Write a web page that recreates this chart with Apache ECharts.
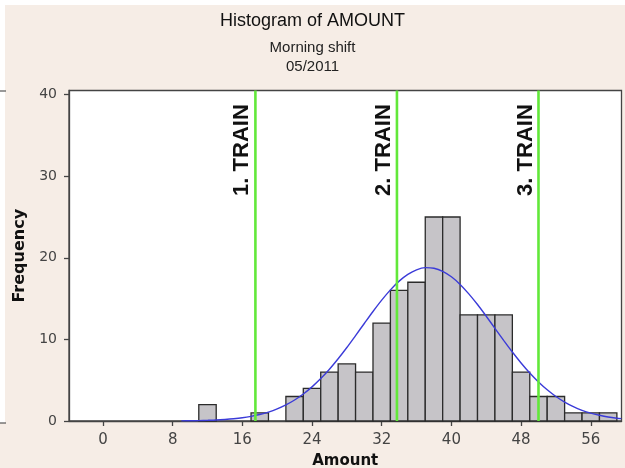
<!DOCTYPE html>
<html>
<head>
<meta charset="utf-8">
<script src="https://cdn.jsdelivr.net/npm/echarts@6.0.0/dist/echarts.min.js"></script>
<style>
  body { margin: 0; }
  #hist { width: 625px; height: 468px; }
</style>
</head>
<body>
<div id="hist"></div>
<script>
// histogram bins (centre of each 2-wide bin) and counts
const binCenters = [12, 14, 16, 18, 20, 22, 24, 26, 28, 30, 32, 34, 36, 38, 40, 42, 44, 46, 48, 50, 52, 54, 56, 58]
const counts = [2, 0, 0, 1, 0, 3, 4, 6, 7, 6, 12, 16, 17, 25, 25, 13, 13, 13, 6, 3, 3, 1, 1, 1]
const binWidth = 2

// fitted normal curve
const curveX = [9, 10, 11, 12, 13, 14, 15, 16, 17, 18, 19, 20, 21, 22, 23, 24, 25, 26, 27, 28, 29, 30, 31, 32, 33, 34,
  35, 36, 37, 38, 39, 40, 41, 42, 43, 44, 45, 46, 47, 48, 49, 50, 51, 52, 53, 54, 55, 56, 57, 58, 59, 59.5]
const curveY = [0.02, 0.03, 0.05, 0.08, 0.12, 0.19, 0.28, 0.40, 0.57, 0.79, 1.09, 1.48, 1.97, 2.57, 3.31, 4.18, 5.20,
  6.35, 7.63, 9.01, 10.47, 11.95, 13.42, 14.81, 16.07, 17.14, 17.97, 18.53, 18.79, 18.72, 18.34, 17.67, 16.74, 15.58,
  14.27, 12.84, 11.36, 9.88, 8.45, 7.11, 5.88, 4.78, 3.82, 3.00, 2.32, 1.76, 1.31, 0.96, 0.70, 0.49, 0.34, 0.29]

// green reference lines
const trainX = [17.5, 33.75, 50]
const trainLabels = ['1. TRAIN', '2. TRAIN', '3. TRAIN']

const xTicks = [0, 8, 16, 24, 32, 40, 48, 56]
const yTicks = [0, 10, 20, 30, 40]

let mychart = echarts.init(document.getElementById('hist'))
let option = {
  backgroundColor: '#F6EDE6',
  animation: false,
  title: {
    text: 'Histogram of AMOUNT',
    subtext: 'Morning shift\n05/2011',
    left: 'center',
    top: 12,
    padding: 0,
    itemGap: 8,
    textStyle: { fontFamily: 'Liberation Sans', fontSize: 18, fontWeight: 'normal', color: '#111', lineHeight: 18 },
    subtextStyle: { fontFamily: 'Liberation Sans', fontSize: 15, color: '#222', lineHeight: 19 }
  },
  graphic: [
    { type: 'rect', shape: { x: 0, y: 0, width: 625, height: 5 }, style: { fill: '#fff' } },
    { type: 'rect', shape: { x: 0, y: 0, width: 5, height: 423 }, style: { fill: '#fff' } },
    { type: 'line', shape: { x1: 0, y1: 91, x2: 6, y2: 91 }, style: { stroke: '#555', lineWidth: 1.2 } },
    { type: 'line', shape: { x1: 0, y1: 423, x2: 6, y2: 423 }, style: { stroke: '#555', lineWidth: 1.2 } }
  ],
  grid: {
    left: 69, right: 3.5, top: 90.5, bottom: 47,
    outerBoundsMode: 'none',
    containLabel: false,
    show: true, backgroundColor: '#fff', borderColor: '#444', borderWidth: 1.3
  },
  xAxis: {
    type: 'value',
    min: -3.9,
    max: 59.53,
    name: 'Amount',
    nameLocation: 'middle',
    nameGap: 33,
    nameTextStyle: { fontFamily: 'DejaVu Sans', fontWeight: 'bold', fontSize: 15, color: '#111' },
    splitLine: { show: false },
    axisLine: { onZero: false, lineStyle: { color: '#444', width: 1.3 } },
    axisTick: { customValues: xTicks, length: 5, lineStyle: { color: '#444', width: 1.3 } },
    axisLabel: { customValues: xTicks, margin: 12, fontFamily: 'DejaVu Sans', fontSize: 15, color: '#444' }
  },
  yAxis: {
    type: 'value',
    min: 0,
    max: 40.5,
    name: 'Frequency',
    nameLocation: 'middle',
    nameGap: 40,
    nameTextStyle: { fontFamily: 'DejaVu Sans', fontWeight: 'bold', fontSize: 16, color: '#111' },
    splitLine: { show: false },
    axisLine: { show: true, onZero: false, lineStyle: { color: '#444', width: 1.3 } },
    axisTick: { show: true, customValues: yTicks, length: 5, lineStyle: { color: '#444', width: 1.3 } },
    axisLabel: { customValues: yTicks, margin: 12, fontFamily: 'DejaVu Sans', fontSize: 14, color: '#444' }
  },
  series: [
    {
      type: 'custom',
      z: 2,
      data: binCenters.map((c, i) => [c, counts[i]]),
      encode: { x: 0, y: 1 },
      renderItem: function (params, api) {
        let c = api.value(0)
        let h = api.value(1)
        if (!h) return null
        let p0 = api.coord([c - binWidth / 2, h])
        let p1 = api.coord([c + binWidth / 2, 0])
        return {
          type: 'rect',
          shape: { x: p0[0], y: p0[1], width: p1[0] - p0[0], height: p1[1] - p0[1] },
          style: { fill: '#C6C4C8', stroke: '#2b2b2b', lineWidth: 1.3 }
        }
      }
    },
    {
      type: 'line',
      z: 3,
      data: curveX.map((x, i) => [x, curveY[i]]),
      showSymbol: false,
      smooth: 0.3,
      lineStyle: { color: '#3B3BD8', width: 1.4 }
    },
    {
      type: 'custom',
      z: 4,
      data: trainX.map(x => [x]),
      encode: { x: 0 },
      renderItem: function (params, api) {
        let x = api.value(0)
        let bottom = api.coord([x, 0])
        let top = api.coord([x, 40.5])
        let mid = api.coord([x, 33.2])
        return {
          type: 'group',
          children: [
            {
              type: 'line',
              shape: { x1: bottom[0], y1: bottom[1], x2: top[0], y2: top[1] },
              style: { stroke: '#62E83A', lineWidth: 2.6 }
            },
            {
              type: 'text',
              x: mid[0] - 13,
              y: mid[1],
              rotation: Math.PI / 2,
              style: {
                text: trainLabels[params.dataIndex],
                font: 'bold 22px "Liberation Sans"',
                fill: '#111',
                textAlign: 'center', textVerticalAlign: 'middle',
                align: 'center', verticalAlign: 'middle'
              }
            }
          ]
        }
      }
    }
  ]
}
mychart.setOption(option)
</script>
</body>
</html>
